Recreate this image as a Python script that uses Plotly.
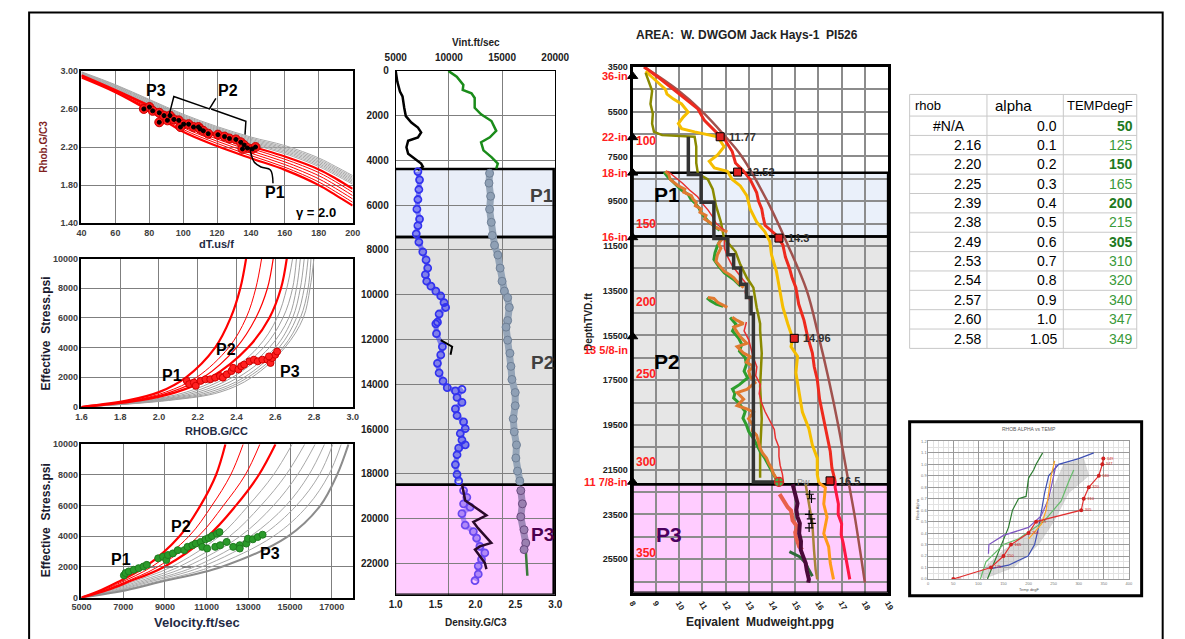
import plotly.graph_objects as go

W, H = 1185, 639
def px(x): return x / W
def py(y): return 1 - y / H

FONT = "Liberation Sans, Arial, sans-serif"

# ---------------- Panel 1 : Rhob vs dT ----------------
p1_dt = [40, 60, 80, 100, 120, 140, 160, 180, 190, 200]
p1_gray = [
    [2.99, 2.855, 2.700, 2.545, 2.415, 2.305, 2.215, 2.085, 1.995, 1.900],
    [2.985, 2.848, 2.692, 2.535, 2.404, 2.293, 2.200, 2.070, 1.980, 1.885],
    [2.98, 2.840, 2.683, 2.525, 2.393, 2.281, 2.186, 2.055, 1.965, 1.870],
    [2.975, 2.832, 2.674, 2.515, 2.382, 2.269, 2.172, 2.040, 1.950, 1.855],
    [2.97, 2.824, 2.665, 2.505, 2.371, 2.257, 2.158, 2.025, 1.935, 1.840],
    [2.965, 2.816, 2.656, 2.495, 2.360, 2.245, 2.144, 2.010, 1.920, 1.825],
    [2.96, 2.808, 2.647, 2.485, 2.349, 2.233, 2.130, 1.995, 1.905, 1.810],
]
p1_red = [
    [2.955, 2.800, 2.636, 2.465, 2.330, 2.210, 2.100, 1.965, 1.870, 1.760],
    [2.95, 2.795, 2.625, 2.445, 2.307, 2.185, 2.072, 1.932, 1.835, 1.725],
    [2.945, 2.790, 2.614, 2.425, 2.284, 2.160, 2.044, 1.899, 1.800, 1.690],
    [2.94, 2.785, 2.603, 2.405, 2.261, 2.135, 2.016, 1.866, 1.765, 1.655],
    [2.935, 2.780, 2.592, 2.385, 2.238, 2.110, 1.988, 1.833, 1.730, 1.620],
    [2.93, 2.775, 2.580, 2.360, 2.210, 2.082, 1.960, 1.800, 1.695, 1.585],
]
p1_red_w = [2.2, 1, 1, 1, 1, 2.2]
p1_pts_dt = [76.8, 80.1, 82.0, 85.9, 85.9, 88.7, 90.7, 92.2, 94.5, 97.4, 100.3, 98.4, 103.2, 106.1,
             109.0, 110.0, 111.9, 114.8, 120.5, 124.4, 127.3, 131.1, 134.0, 136.0, 137.9, 140.8, 142.7, 135.0]
p1_pts_rhob = [2.60, 2.62, 2.58, 2.56, 2.46, 2.53, 2.48, 2.53, 2.49, 2.48, 2.44, 2.41, 2.44, 2.41,
               2.41, 2.39, 2.37, 2.34, 2.33, 2.31, 2.29, 2.28, 2.25, 2.22, 2.19, 2.18, 2.20, 2.18]
p1_bracket_dt = [91.6, 94.5, 115.5, 119.3, None, 116.5, 137.0, 136.5]
p1_bracket_rh = [2.53, 2.73, 2.60, 2.71, None, 2.60, 2.47, 2.33]
p1_pointer_dt = [139.2, 142.0, 146.0, 151.5, 153.0]
p1_pointer_rh = [2.20, 2.04, 1.99, 1.96, 1.82]

# ---------------- Panel 2 : Effective stress vs RHOB ----------------
p2_stress = [0, 440, 1000, 2000, 4000, 6000, 8000, 10000]
p2_red = [
    [1.6, 1.84, 2.00, 2.14, 2.29, 2.37, 2.42, 2.45],
    [1.6, 1.865, 2.035, 2.195, 2.36, 2.45, 2.50, 2.53],
    [1.6, 1.88, 2.06, 2.23, 2.40, 2.50, 2.56, 2.59],
    [1.6, 1.90, 2.09, 2.27, 2.46, 2.57, 2.63, 2.66],
]
p2_red_w = [2.2, 1, 1.2, 2.2]
p2_gray = [
    [1.6, 1.93, 2.14, 2.32, 2.51, 2.61, 2.66, 2.69],
    [1.6, 1.95, 2.17, 2.35, 2.54, 2.64, 2.69, 2.71],
    [1.6, 1.97, 2.20, 2.38, 2.57, 2.67, 2.71, 2.73],
    [1.6, 1.99, 2.23, 2.41, 2.60, 2.69, 2.73, 2.75],
    [1.6, 2.01, 2.26, 2.44, 2.62, 2.71, 2.75, 2.77],
    [1.6, 2.03, 2.29, 2.46, 2.64, 2.73, 2.77, 2.785],
    [1.6, 2.05, 2.315, 2.48, 2.65, 2.745, 2.78, 2.80],
]
p2_pts_rhob = [2.144, 2.156, 2.18, 2.19, 2.215, 2.24, 2.265, 2.29, 2.315, 2.33, 2.35, 2.374, 2.383,
               2.41, 2.425, 2.44, 2.467, 2.49, 2.51, 2.534, 2.56, 2.576, 2.585, 2.60, 2.61, 2.568]
p2_pts_stress = [1758, 1538, 1648, 1429, 1758, 1868, 1868, 1978, 2088, 1978, 2198, 2418, 2637,
                 2527, 2747, 2857, 3077, 3187, 3077, 3187, 3187, 2967, 3297, 3516, 3736, 3407]

# ---------------- Panel 3 : Effective stress vs Velocity ----------------
p3_stress = [0, 500, 1000, 2000, 4000, 6000, 8000, 10000]
p3_red = [
    [5000, 5950, 6720, 8050, 9700, 10700, 11450, 11900],
    [5000, 6050, 6900, 8350, 10150, 11250, 12150, 12750],
    [5000, 6150, 7050, 8650, 10600, 11800, 12850, 13550],
    [5000, 6250, 7200, 8950, 11050, 12400, 13500, 14300],
]
p3_red_w = [2.2, 1, 1, 2.2]
p3_gray = [
    [5000, 6350, 7400, 9300, 11600, 13000, 14200, 15100],
    [5000, 6450, 7600, 9650, 12100, 13600, 14800, 15700],
    [5000, 6600, 7800, 10000, 12600, 14200, 15350, 16200],
    [5000, 6750, 8000, 10400, 13100, 14800, 15900, 16650],
    [5000, 6850, 8200, 10750, 13600, 15300, 16400, 17050],
    [5000, 7000, 8450, 11200, 14200, 15850, 16850, 17450],
    [5000, 7200, 8700, 11700, 14900, 16450, 17250, 17800],
]
p3_gray_w = [1, 1, 1, 1, 1, 1, 2]
p3_pts_vel = [7034, 7112, 7269, 7503, 7738, 7973, 8129,
              8677, 8911, 9068, 9146, 9381, 9615, 9928, 10085, 10319, 10476, 10711, 10790, 10945, 11023, 11102, 11258, 11493, 11618,
              11414, 11649, 11962, 12275, 12588, 12588, 12900, 12979, 13214, 13448, 13683]
p3_pts_stress = [1453, 1603, 1709, 1816, 1923, 2030, 2137,
                 2564, 2671, 2457, 2778, 2885, 3098, 3098, 3312, 3419, 3526, 3632, 3312, 3803, 3205, 3889, 4017, 4167, 4274,
                 3312, 3419, 3632, 3312, 3419, 3205, 3526, 3846, 3803, 3953, 4103]
p3_dash_vel = [8100, 10400]
p3_dash_stress = [2000, 2000]

# ---------------- Middle : Vint / Density vs depth ----------------
vint_shallow_d = [0, 480, 920, 1140, 1650, 2020, 2310, 2530, 2750, 2970, 3120, 3410, 3700, 3920, 4140, 4280, 4430]
vint_shallow_v = [5000, 5150, 5400, 5640, 5800, 5950, 6470, 7090, 7390, 7090, 6170, 6010, 6170, 6780, 7390, 7550, 7090]
dens_shallow_d = [0, 263, 628, 850, 1000, 1210, 1650, 1940, 2240, 2680, 2970, 3190, 3550, 3850, 4140, 4370]
dens_shallow_r = [1.66, 1.765, 1.848, 1.84, 1.95, 1.99, 1.99, 2.07, 2.20, 2.26, 2.18, 2.07, 2.10, 2.20, 2.28, 2.26]
vint_d = [4500, 4868, 5300, 5746, 6180, 6623, 6915, 7281, 7646, 8084, 8447, 8811, 9105, 9398, 9618, 9838,
          10057, 10349, 10570, 10862, 11228, 11300, 11740, 12320, 12689, 13063, 13490, 13860, 14153, 14298,
          14226, 14590, 14810, 15101, 15395, 15684, 15980, 16199, 16491, 16711, 16856, 17149, 17588, 18026, 18318]
vint_v = [7086, 7240, 7178, 7086, 6994, 7240, 7086, 6932, 7178, 7546, 7853, 8006, 7792, 7915, 8313, 8773,
          9233, 9540, 9693, 9080, 8927, 8773, 8835, 9387, 9233, 8927, 9080, 9448, 9846, 10613,
          11227, 10766, 11227, 10613, 10766, 11380, 11533, 11073, 11227, 11533, 10920, 10766, 10613, 10766, 10920]
vint_p3_d = [18750, 19050, 19340, 19490, 19780, 20295, 20585, 20877, 21241, 21535, 21827, 22120, 22485, 22776]
vint_p3_v = [11380, 11687, 11380, 11994, 11227, 11533, 12300, 12607, 12914, 13374, 13067, 12760, 12760, 12454]
vtrend_p3_d = [18460, 19195, 19490, 19853, 20150, 20440, 21090, 21241, 21386, 21970, 22260]
vtrend_p3_v = [11227, 11533, 12454, 13527, 12300, 12760, 13987, 12914, 12454, 13374, 13527]
vtrend_p2_d = [12030, 12320, 12680]
vtrend_p2_v = [9233, 10306, 10153]
dens_d = [4575, 5014, 5600, 6180, 6765, 7350, 7790, 8226, 8811, 9398, 9838, 10130, 10570, 11155,
          11447, 12030, 12615, 13200, 13785, 14370, 14960, 15540, 16125, 16710, 17295, 17880, 18318]
dens_r = [2.177, 2.169, 2.19, 2.177, 2.198, 2.21, 2.239, 2.28, 2.309, 2.333, 2.362, 2.403, 2.424, 2.403,
          2.383, 2.403, 2.432, 2.444, 2.457, 2.498, 2.498, 2.473, 2.486, 2.514, 2.506, 2.527, 2.555]
dens_p3_d = [18750, 19340, 19920, 20500, 21090, 21386]
dens_p3_r = [2.568, 2.588, 2.568, 2.609, 2.63, 2.609]
dens_p3_line_d = [21386, 21800, 22200, 22555]
dens_p3_line_r = [2.63, 2.635, 2.64, 2.65]
mid_zone_top = [4386, 7425, 18490]
mid_zone_bot = [7425, 18490, 23400]

# ---------------- Right : Equivalent mud weight vs depth ----------------
ob_d = [3500, 4500, 5500, 6500, 7500, 9500, 11500, 13500, 15500, 17500, 19500, 21500, 23500, 25500, 26550]
ob_p = [8.5, 9.9, 11.0, 11.9, 12.7, 13.8, 14.7, 15.5, 16.0, 16.45, 16.85, 17.2, 17.55, 17.85, 18.0]
fg_d = [3500, 3984, 4790, 5377, 5890, 6476, 6696, 7282, 7794, 8160, 8528, 9113, 9500, 9847, 10200, 10577,
        11018, 11456, 12000, 12484, 12900, 13363, 14100, 14827, 15487, 16293, 16900, 17466, 18346, 19224,
        19958, 20688, 21422, 22008]
fg_p = [8.49, 9.13, 10.11, 10.81, 11.09, 11.66, 11.94, 12.29, 12.43, 12.78, 13.06, 13.34, 13.42, 13.56,
        13.62, 13.70, 14.19, 14.47, 14.58, 14.75, 14.86, 15.03, 15.15, 15.38, 15.52, 15.74, 15.82, 15.95,
        16.05, 16.23, 16.37, 16.51, 16.58, 16.72]
fg_p3_d = [22008, 22302, 23035, 23500, 23915, 24400, 24794, 25100, 25524, 26000, 26403]
fg_p3_p = [16.72, 16.72, 16.86, 16.85, 17.0, 16.98, 17.07, 17.12, 17.21, 17.28, 17.35]
ye_d = [3693, 4204, 4498, 4718, 4937, 5157, 5522, 5742, 6036, 6256, 6401, 6621, 7061, 7428, 7721, 8014,
        8160, 8528, 8818, 9258, 9847, 10429, 10871, 11311, 11896, 12630, 13364, 14243, 14976, 15633,
        16002, 16442, 17172, 18051, 18930, 19664, 20398, 20985, 21718, 22082]
ye_p = [8.56, 9.13, 9.41, 9.48, 9.76, 10.11, 10.39, 10.18, 9.97, 10.11, 10.67, 11.66, 11.94, 11.66, 11.3,
        11.52, 12.08, 12.29, 12.64, 12.92, 13.06, 13.34, 13.70, 13.91, 13.98, 14.19, 14.33, 14.47, 14.68,
        14.89, 14.82, 15.1, 15.03, 15.17, 15.31, 15.59, 15.74, 15.95, 15.95, 16.02]
ye_p3_d = [22082, 22302, 23035, 23621, 24354, 24940, 25673, 26403]
ye_p3_p = [16.02, 16.3, 16.23, 16.37, 16.23, 16.44, 16.51, 16.65]
ol_d = [3767, 4134, 4572, 5157, 5596, 6036, 6401, 6548, 6621, 7061, 7794, 8263, 8528, 8968, 9701, 10429,
        11165, 11751, 12337, 12923, 13363, 14243, 14976, 15268, 16293, 17760, 19224, 20688, 21862]
ol_p = [8.56, 8.70, 8.84, 8.77, 8.87, 8.84, 8.92, 9.27, 10.67, 10.74, 10.74, 10.81, 11.24, 11.45, 11.59,
        11.80, 11.94, 12.43, 12.64, 12.92, 13.2, 13.34, 13.49, 13.49, 13.56, 13.49, 13.56, 13.49, 13.49]
ol_p3_d = [22155, 23035, 23915, 25087, 25966, 26403]
ol_p3_p = [15.45, 15.59, 15.74, 15.81, 15.88, 15.95]
mw_d = [6621, 8309, 8309, 9553, 9553, 11165, 11165, 11896, 11896, 12484, 12484, 13217, 13217, 13803,
        13803, 14536, 14536, 22050, 22050]
mw_p = [10.4, 10.4, 10.95, 10.95, 11.5, 11.5, 12.1, 12.1, 12.35, 12.35, 12.65, 12.65, 12.9, 12.9,
        13.1, 13.1, 13.2, 13.2, 14.35]
# pore pressure estimates (orange / green / red thin)
pp_or_d = [[8160, 8300, 8528, 8700, 8818, 8968, 9100, 9258, 9400, 9553, 9700, 9847, 10000, 10140, 10300,
            10429, 10550, 10650, 10750, 10871],
           [11165, 11400, 11604, 11900, 12190, 12400, 12630, 12800, 12923, 13100, 13217, 13363],
           [13803, 13850, 14023, 14150, 14243],
           [14683, 14829, 14976, 15122, 15350, 15560, 15853, 16002, 16295, 16442, 16700, 16882, 17100, 17322,
            17615, 17908, 18055, 18348, 18641, 18788, 18934, 19228, 19521, 19750, 19960, 20250, 20546, 20760,
            20985, 21200, 21425, 21650, 21864, 22000, 22157]]
pp_or_p = [[9.41, 9.55, 9.62, 9.85, 9.97, 10.25, 10.2, 10.53, 10.6, 10.74, 10.7, 10.95, 10.9, 11.16, 11.1,
            11.3, 11.45, 11.52, 11.8, 12.08],
           [11.87, 11.7, 11.8, 11.65, 11.59, 11.75, 11.94, 12.2, 12.36, 12.5, 12.64, 12.78],
           [11.24, 11.5, 11.66, 11.9, 12.08],
           [12.29, 12.5, 12.78, 12.36, 12.5, 12.64, 12.92, 12.5, 12.78, 13.06, 12.9, 13.2, 13.0, 13.06,
            13.27, 12.92, 12.5, 12.78, 12.5, 12.92, 13.2, 12.99, 13.2, 13.15, 13.34, 13.4, 13.49, 13.6,
            13.77, 13.85, 13.98, 14.05, 14.19, 14.25, 14.33]]
pp_gr_d = [[8200, 8400, 8600, 8800, 9000, 9200, 9400, 9600, 9800, 10000, 10200, 10400, 10600, 10800],
           [11200, 11500, 11800, 12100, 12400, 12700, 13000, 13300],
           [13820, 13950, 14100, 14200],
           [14700, 15000, 15300, 15600, 15900, 16200, 16500, 16800, 17100, 17400, 17700, 17900, 18100, 18300,
            18500, 18700, 18900, 19200, 19500, 19800, 20100, 20400, 20700, 21000, 21300, 21600, 21900, 22150]]
pp_gr_p = [[9.35, 9.5, 9.7, 9.9, 10.1, 10.4, 10.5, 10.7, 10.85, 10.95, 11.1, 11.25, 11.5, 11.75],
           [11.8, 11.65, 11.55, 11.5, 11.7, 11.95, 12.35, 12.65],
           [11.2, 11.35, 11.6, 11.9],
           [12.2, 12.45, 12.3, 12.55, 12.7, 12.6, 12.85, 12.9, 12.8, 12.95, 12.6, 12.3, 12.4, 12.35,
            12.55, 12.7, 12.85, 12.75, 12.9, 13.0, 13.2, 13.35, 13.5, 13.7, 13.85, 14.0, 14.15, 14.3]]
pp_rd_d = [[8150, 8400, 8700, 9000, 9300, 9600, 9900, 10200, 10500, 10800],
           [11200, 11600, 12000, 12400, 12800, 13200, 13600, 14000],
           [14900, 15300, 15700, 16100, 16500, 16900, 17300, 17700, 18100, 18500, 18900, 19300, 19700,
            20100, 20500, 20900, 21300, 21700, 22100]]
pp_rd_p = [[9.5, 9.8, 10.15, 10.45, 10.8, 11.0, 11.25, 11.45, 11.6, 11.95],
           [11.95, 11.95, 12.1, 12.3, 12.6, 12.9, 12.85, 13.1],
           [12.9, 12.8, 13.0, 13.1, 13.2, 13.35, 13.3, 13.5, 13.45, 13.55, 13.7, 13.9, 14.1, 14.15, 14.3,
            14.3, 14.35, 14.45, 14.5]]
p3_salmon_d = [22595, 22815, 23000, 23181, 23328, 23550, 23768, 24061, 24300, 24501, 24700, 24940, 25087]
p3_salmon_p = [14.33, 14.47, 14.55, 14.68, 14.82, 14.85, 14.89, 15.1, 15.0, 15.03, 15.1, 15.17, 15.31]
p3_dkgreen_d = [25160, 25300, 25380, 25500, 25673, 25900, 26260]
p3_dkgreen_p = [14.75, 15.0, 15.17, 15.3, 15.45, 15.55, 15.74]
p3_purple_d = [22155, 22450, 22742, 23000, 23300, 23621, 23900, 24354, 24700, 25087, 25400, 25673, 26000, 26403, 26550]
p3_purple_p = [14.89, 14.95, 15.03, 15.1, 15.05, 15.1, 15.2, 15.17, 15.25, 15.24, 15.35, 15.45, 15.5, 15.59, 15.56]
p3_plus_d = [22600, 22800, 23500, 23700, 23900, 24100]
p3_plus_p = [15.62, 15.7, 15.6, 15.68, 15.72, 15.6]
mk_d = [6621, 8200, 11150, 15630, 22000]
mk_p = [11.77, 12.52, 14.3, 14.96, 16.5]
mk_txt = ["11.77", "12.52", "14.3", "14.96", "16.5"]
casing_d = [3913, 6650, 8234, 11120, 15550, 22050]
casing_lbl_d = [3913, 6650, 8234, 11120, 16150, 22050]
casing_lbl = ["36-in", "22-in", "18-in", "16-in", "13 5/8-in", "11 7/8-in"]
temp_lbl_d = [6830, 10507, 14000, 17245, 21160, 25230]
temp_lbl = ["100", "150", "200", "250", "300", "350"]
r_zone_top = [8234, 11082, 22155]
r_zone_bot = [11082, 22155, 27000]

# ---------------- Table ----------------
tbl_rhob = [None, 2.16, 2.20, 2.25, 2.39, 2.38, 2.49, 2.53, 2.54, 2.57, 2.60, 2.58]
tbl_alpha = [0.0, 0.1, 0.2, 0.3, 0.4, 0.5, 0.6, 0.7, 0.8, 0.9, 1.0, 1.05]
tbl_temp = [50, 125, 150, 165, 200, 215, 305, 310, 320, 340, 347, 349]
tbl_temp_bold = [True, False, True, False, True, False, True, False, False, False, False, False]

# ---------------- Inset (RHOB ALPHA vs TEMP) ----------------
ins_lines = [
    ("#2E7D32", [118, 130, 150, 160, 168, 180, 195, 200, 210, 215, 228], [0.0, 0.13, 0.33, 0.45, 0.6, 0.7, 0.72, 0.88, 0.95, 1.0, 1.1]),
    ("#3F51B5", [125, 160, 199, 212, 220, 226, 232, 240, 260, 300, 330], [0.09, 0.12, 0.2, 0.3, 0.45, 0.6, 0.75, 0.9, 1.0, 1.05, 1.1]),
    ("#7E57C2", [120, 121, 150, 200, 225, 240, 250, 255], [0.22, 0.3, 0.38, 0.45, 0.55, 0.7, 0.9, 1.0]),
    ("#66BB6A", [104, 115, 150, 180, 230, 265, 280, 290], [0.0, 0.15, 0.3, 0.35, 0.5, 0.68, 0.85, 0.95]),
    ("#FFA726", [200, 215, 226, 235, 245, 252], [0.35, 0.42, 0.48, 0.6, 0.9, 1.03]),
]
ins_band_t = [100, 150, 200, 230, 250, 270, 310, 320, 280, 250, 220, 170, 110, 100]
ins_band_a = [0.05, 0.25, 0.4, 0.55, 0.8, 1.0, 1.05, 0.9, 0.75, 0.5, 0.3, 0.1, 0.0, 0.05]

fig = go.Figure()

def line(x, y, xa, ya, color, width=1, shape='linear', dash='solid', opacity=1):
    fig.add_trace(go.Scatter(x=x, y=y, xaxis=xa, yaxis=ya, mode='lines', opacity=opacity,
                             line=dict(color=color, width=width, shape=shape, dash=dash),
                             hoverinfo='skip', showlegend=False))

def marks(x, y, xa, ya, color, size=7, symbol='circle', lcolor=None, lw=1, opacity=1):
    fig.add_trace(go.Scatter(x=x, y=y, xaxis=xa, yaxis=ya, mode='markers', opacity=opacity,
                             marker=dict(color=color, size=size, symbol=symbol,
                                         line=dict(color=lcolor or color, width=lw)),
                             hoverinfo='skip', showlegend=False, cliponaxis=False))

# Panel 1
for ys in p1_gray:
    line(p1_dt, ys, 'x', 'y', '#A8A8A8', 1, 'spline')
for ys, w in zip(p1_red, p1_red_w):
    line(p1_dt, ys, 'x', 'y', '#FF0000', w, 'spline')
marks(p1_pts_dt, p1_pts_rhob, 'x', 'y', '#FF1A1A', 9, 'circle', '#CC0000', 1)
marks(p1_pts_dt, p1_pts_rhob, 'x', 'y', '#000000', 4)
line(p1_bracket_dt, p1_bracket_rh, 'x', 'y', '#000000', 1.5)
line(p1_pointer_dt, p1_pointer_rh, 'x', 'y', '#000000', 1.5, 'spline')

# Panel 2
for xs in p2_gray:
    line(xs, p2_stress, 'x2', 'y2', '#A0A0A0', 1, 'spline')
for xs, w in zip(p2_red, p2_red_w):
    line(xs, p2_stress, 'x2', 'y2', '#FF0000', w, 'spline')
marks(p2_pts_rhob, p2_pts_stress, 'x2', 'y2', '#FF2020', 7, 'circle', '#D00000', 1)

# Panel 3
for xs, w in zip(p3_gray, p3_gray_w):
    line(xs, p3_stress, 'x3', 'y3', '#8C8C8C' if w > 1 else '#A8A8A8', w, 'spline')
for xs, w in zip(p3_red, p3_red_w):
    line(xs, p3_stress, 'x3', 'y3', '#FF0000', w, 'spline')
line(p3_dash_vel, p3_dash_stress, 'x3', 'y3', '#707070', 1.5, dash='dash')
marks(p3_pts_vel, p3_pts_stress, 'x3', 'y3', '#2A9A2A', 7, 'circle', '#1E7A1E', 1)

# Middle
line(vint_shallow_v, vint_shallow_d, 'x5', 'y4', '#000000', 2.5)
line(dens_shallow_r, dens_shallow_d, 'x4', 'y4', '#1A8C1A', 2.5)
line(vint_v, vint_d, 'x5', 'y4', 'rgba(50,50,240,0.55)', 5)
marks(vint_v, vint_d, 'x5', 'y4', '#3333EE', 7, 'circle-open', '#3333EE', 1.8)
line(vtrend_p2_v, vtrend_p2_d, 'x5', 'y4', '#000000', 2)
line(vint_p3_v, vint_p3_d, 'x5', 'y4', 'rgba(100,70,240,0.5)', 5)
marks(vint_p3_v, vint_p3_d, 'x5', 'y4', '#6A48F0', 7, 'circle-open', '#6A48F0', 1.8)
line(vtrend_p3_v, vtrend_p3_d, 'x5', 'y4', '#2A0A2A', 2.5)
line(dens_r, dens_d, 'x4', 'y4', '#95A5B8', 7)
marks(dens_r, dens_d, 'x4', 'y4', '#8FA0B5', 8, 'circle', '#6F8096', 1)
line(dens_p3_line_r, dens_p3_line_d, 'x4', 'y4', '#3A7A3A', 2.5)
line(dens_p3_r, dens_p3_d, 'x4', 'y4', '#A088B8', 7)
marks(dens_p3_r, dens_p3_d, 'x4', 'y4', '#9A80B0', 8, 'circle', '#6A4A80', 1)

# Right panel
line(ob_p, ob_d, 'x6', 'y6', '#A0524E', 2.5, 'spline')
line(fg_p, fg_d, 'x6', 'y6', '#EE2A1E', 3)
line(fg_p3_p, fg_p3_d, 'x6', 'y6', '#FF1744', 3)
line(ye_p, ye_d, 'x6', 'y6', '#F5BE00', 3)
line(ye_p3_p, ye_p3_d, 'x6', 'y6', '#FF9A1A', 3)
line(ol_p, ol_d, 'x6', 'y6', '#8A8A00', 2.5)
line(ol_p3_p, ol_p3_d, 'x6', 'y6', '#A8843A', 2.5)
for xs, ys in zip(pp_gr_p, pp_gr_d):
    line(xs, ys, 'x6', 'y6', '#2E9E2E', 3)
for xs, ys in zip(pp_or_p, pp_or_d):
    line(xs, ys, 'x6', 'y6', '#E07A30', 3)
for xs, ys in zip(pp_rd_p, pp_rd_d):
    line(xs, ys, 'x6', 'y6', '#E83030', 1.5)
line(mw_p, mw_d, 'x6', 'y6', '#333333', 3.5)
line(p3_salmon_p, p3_salmon_d, 'x6', 'y6', '#E8604C', 4)
line(p3_dkgreen_p, p3_dkgreen_d, 'x6', 'y6', '#2E6B3A', 3)
line(p3_purple_p, p3_purple_d, 'x6', 'y6', '#4A0A3A', 4)
marks(p3_plus_p, p3_plus_d, 'x6', 'y6', '#000000', 6, 'cross-thin', '#000000', 1.2)
marks(mk_p, mk_d, 'x6', 'y6', '#E02020', 8, 'square', '#000000', 1)
marks([14.3], [22050], 'x6', 'y6', '#3CB44B', 9, 'circle-cross', '#E02020', 1.2)
marks([8] * len(casing_d), casing_d, 'x6', 'y6', '#000000', 9, 'triangle-up', '#000000', 1)

# Inset
fig.add_trace(go.Scatter(x=ins_band_t, y=ins_band_a, xaxis='x7', yaxis='y7', mode='lines', fill='toself',
                         fillcolor='rgba(150,150,150,0.35)', line=dict(color='rgba(150,150,150,0.3)', width=0.5),
                         hoverinfo='skip', showlegend=False))
for c, xs, ys in ins_lines:
    line(xs, ys, 'x7', 'y7', c, 1.2)
fig.add_trace(go.Scatter(x=tbl_temp, y=tbl_alpha, xaxis='x7', yaxis='y7', mode='lines+markers+text',
                         text=[str(t) for t in tbl_temp], textposition='middle right',
                         textfont=dict(size=4, color='#D02020', family=FONT),
                         line=dict(color='#E03030', width=1.2), marker=dict(color='#D02020', size=4),
                         hoverinfo='skip', showlegend=False))

# ---------------- Shapes ----------------
shapes = []
mid_fill = ['#E9EEF8', '#E1E1E1', '#FFCCFF']
for t, b, c in zip(mid_zone_top, mid_zone_bot, mid_fill):
    shapes.append(dict(type='rect', xref='x4', yref='y4', x0=1.0, x1=3.0, y0=t, y1=b,
                       fillcolor=c, line=dict(width=0), layer='below'))
    shapes.append(dict(type='rect', xref='x4', yref='y4', x0=0.99, x1=2.98, y0=t, y1=b,
                       fillcolor='rgba(0,0,0,0)', line=dict(color='black', width=2.5), layer='between'))
r_fill = ['#EAF0FA', '#E6E6E6', '#FFCCFF']
for t, b, c in zip(r_zone_top, r_zone_bot, r_fill):
    shapes.append(dict(type='rect', xref='x6', yref='y6', x0=8, x1=19, y0=t, y1=b,
                       fillcolor=c, line=dict(width=0), layer='below'))
    shapes.append(dict(type='rect', xref='x6', yref='y6', x0=8, x1=19, y0=t, y1=b,
                       fillcolor='rgba(0,0,0,0)', line=dict(color='black', width=2.5), layer='between'))
# outer frame
shapes.append(dict(type='rect', xref='paper', yref='paper', x0=px(18.5), x1=px(1176.5), y0=py(660), y1=py(6.5),
                   line=dict(color='black', width=2), fillcolor='rgba(0,0,0,0)', layer='above'))
# table grid
tbl_xs = [918, 997, 1075, 1150]
row_lines = [90, 112] + [112 + 19.7 * i for i in range(1, len(tbl_temp) + 1)]
for x in tbl_xs:
    shapes.append(dict(type='line', xref='paper', yref='paper', x0=px(x), x1=px(x), y0=py(90), y1=py(row_lines[-1]),
                       line=dict(color='#C8C8C8', width=1)))
for y in row_lines:
    shapes.append(dict(type='line', xref='paper', yref='paper', x0=px(918), x1=px(1150), y0=py(y), y1=py(y),
                       line=dict(color='#C8C8C8', width=1)))
# inset frame
shapes.append(dict(type='rect', xref='paper', yref='paper', x0=px(918), x1=px(1155), y0=py(600), y1=py(423),
                   line=dict(color='black', width=3), fillcolor='rgba(0,0,0,0)'))

# ---------------- Annotations ----------------
ann = []
def txt(x, y, s, size=10, color='#000000', bold=True, xref='paper', yref='paper', xanchor='center',
        yanchor='middle', angle=0, family=FONT):
    ann.append(dict(x=x, y=y, xref=xref, yref=yref, text=s, showarrow=False, xanchor=xanchor, yanchor=yanchor,
                    textangle=angle, font=dict(family=family, size=size, color=color,
                                               weight='bold' if bold else 'normal')))

# panel 1
txt(83.9, 2.79, "P3", 16, xref='x', yref='y')
txt(126.3, 2.79, "P2", 16, xref='x', yref='y')
txt(154.3, 1.72, "P1", 16, xref='x', yref='y')
txt(178.3, 1.51, "γ = 2.0", 13, xref='x', yref='y')
txt(px(33), py(143), "Rhob.G/C3", 10, '#7F1F1F', True, angle=-90)
txt(px(210), py(242), "dT.us/f", 11, '#1F2A44')
# panel 2
txt(2.066, 2088, "P1", 16, xref='x2', yref='y2')
txt(2.346, 3846, "P2", 16, xref='x2', yref='y2')
txt(2.677, 2418, "P3", 16, xref='x2', yref='y2')
txt(px(36), py(333), "Effective  Stress.psi", 12, '#1A1A2E', True, angle=-90)
txt(px(210), py(432), "RHOB.G/CC", 11, '#1F2A44')
# panel 3
txt(6909, 2457, "P1", 16, xref='x3', yref='y3')
txt(9772, 4637, "P2", 16, xref='x3', yref='y3')
txt(14027, 2885, "P3", 16, xref='x3', yref='y3')
txt(px(36), py(523), "Effective  Stress.psi", 12, '#1A1A2E', True, angle=-90)
txt(px(190), py(627), "Velocity.ft/sec", 13, '#1F2A44')
# middle
txt(px(475), py(37), "Vint.ft/sec", 10, '#222222')
txt(px(475), py(627), "Density.G/C3", 10, '#222222')
txt(2.836, 5583, "P1", 19, '#404040', xref='x4', yref='y4')
txt(2.836, 13040, "P2", 19, '#404040', xref='x4', yref='y4')
txt(2.836, 20715, "P3", 19, '#4B0050', xref='x4', yref='y4')
# right
txt(px(752), py(30), "AREA:  W. DWGOM Jack Hays-1  PI526", 12, '#222222')
txt(px(590), py(322), "DepthTVD.ft", 10, '#222222', angle=-90)
txt(px(765), py(627), "Eqivalent  Mudweight.ppg", 12, '#222222')
txt(9.48, 9201, "P1", 21, xref='x6', yref='y6')
txt(9.48, 16670, "P2", 21, xref='x6', yref='y6')
txt(9.56, 24411, "P3", 21, '#4B0060', xref='x6', yref='y6')
for d, s in zip(casing_lbl_d, casing_lbl):
    txt(px(632), d, s, 11, '#FF2020', True, yref='y6', xanchor='right')
for d, s in zip(temp_lbl_d, temp_lbl):
    txt(8.08, d, s, 12, '#FF2020', True, xref='x6', yref='y6', xanchor='left')
for p, d, s in zip(mk_p, mk_d, mk_txt):
    txt(p + 0.3, d, s, 11, '#303030', True, xref='x6', yref='y6', xanchor='left')
txt(15.0, 22050, "Pw", 9, '#8A8A8A', False, xref='x6', yref='y6', xanchor='left')
# table
txt(px(921), py(101), "rhob", 13, '#000000', False, xanchor='left')
txt(px(1003), py(101), "alpha", 15, '#000000', False, xanchor='left')
txt(px(1077), py(101), "TEMPdegF", 13, '#000000', False, xanchor='left')
for i, (r, a, t, b) in enumerate(zip(tbl_rhob, tbl_alpha, tbl_temp, tbl_temp_bold)):
    yy = py(121.7 + i * 19.7)
    if r is None:
        txt(px(958), yy, "#N/A", 14, '#000000', False)
    else:
        txt(px(993), yy, f"{r:.2f}", 14, '#000000', False, xanchor='right')
    a_s = f"{a:.2f}" if abs(a * 10 - round(a * 10)) > 1e-9 else f"{a:.1f}"
    txt(px(1071), yy, a_s, 14, '#000000', False, xanchor='right')
    txt(px(1148), yy, str(t), 14, '#1E7A1E' if b else '#3A9A3A', b, xanchor='right')
# inset
txt(px(1040), py(430), "RHOB ALPHA vs TEMP", 5, '#555555', False)
txt(px(1040), py(594), "Temp degF", 4, '#555555', False)
txt(px(926), py(512), "Rhob Alpha", 4, '#555555', False, angle=-90)

# ---------------- Axes ----------------
def axis(domain, rng, **kw):
    d = dict(domain=domain, range=rng, showgrid=True, gridcolor='#7F7F7F', gridwidth=1.3, showline=True,
             linecolor='black', linewidth=1.5, mirror=True, zeroline=False, ticks='',
             tickfont=dict(family=FONT, size=9, color='#404040', weight='bold'), fixedrange=True)
    d.update(kw)
    return d

LX = [px(72), px(349)]
layout = dict(
    width=W, height=H, margin=dict(l=0, r=0, t=0, b=0), paper_bgcolor='white', plot_bgcolor='white',
    showlegend=False, hovermode=False,
    xaxis=axis(LX, [40, 200], dtick=20, anchor='y'),
    yaxis=axis([py(221), py(66)], [1.4, 3.0], tick0=1.4, dtick=0.4, tickformat='.2f', anchor='x'),
    xaxis2=axis(LX, [1.6, 3.0], dtick=0.2, tickformat='.1f', anchor='y2'),
    yaxis2=axis([py(408), py(257)], [0, 10000], dtick=2000, tickformat='d', anchor='x2'),
    xaxis3=axis(LX, [5000, 18000], tickvals=[5000, 7000, 9000, 11000, 13000, 15000, 17000], tickformat='d', anchor='y3'),
    yaxis3=axis([py(602), py(446)], [0, 10000], dtick=2000, tickformat='d', anchor='x3'),
    xaxis4=axis([px(393), px(556)], [1.0, 3.0], dtick=0.5, tickformat='.1f', showgrid=False, anchor='y4',
                mirror=False, linewidth=1, tickfont=dict(family=FONT, size=10, color='#202020', weight='bold')),
    xaxis5=axis([px(393), px(556)], [5000, 20000], dtick=5000, tickformat='d', overlaying='x4', side='top',
                anchor='y4', mirror=False, linewidth=1, gridwidth=1, ticklabelstandoff=5,
                tickfont=dict(family=FONT, size=10, color='#202020', weight='bold')),
    yaxis4=axis([py(599), py(66)], [23400, 0], dtick=2000, tickformat='d', anchor='x4', linewidth=1, gridwidth=1,
                ticklabelstandoff=4,
                tickfont=dict(family=FONT, size=10, color='#202020', weight='bold')),
    xaxis6=axis([px(635), px(896)], [8, 19], dtick=1, anchor='y6', tickangle=60, gridcolor='#8C8C8C',
                gridwidth=2, linewidth=2.5, tickfont=dict(family=FONT, size=8, color='#202020', weight='bold')),
    yaxis6=axis([py(597), py(62)], [27000, 3500], tick0=3500, dtick=2000, tickformat='d', anchor='x6',
                gridcolor='#8C8C8C', gridwidth=2, linewidth=3,
                minor=dict(tick0=3500, dtick=1000, showgrid=True, gridcolor='#8C8C8C', gridwidth=2),
                tickfont=dict(family=FONT, size=9, color='#202020', weight='bold')),
    xaxis7=axis([px(937), px(1142)], [0, 400], dtick=50, anchor='y7', gridcolor='#9A9A9A', gridwidth=0.8,
                linewidth=0.5, linecolor='#999999',
                minor=dict(dtick=10, showgrid=True, gridcolor='#E2E2E2', gridwidth=0.5),
                tickfont=dict(family=FONT, size=4, color='#777777')),
    yaxis7=axis([py(583), py(443)], [0, 1.2], dtick=0.1, tickformat='.1f', anchor='x7', gridcolor='#9A9A9A',
                gridwidth=0.8, linewidth=0.5, linecolor='#999999',
                minor=dict(dtick=0.05, showgrid=True, gridcolor='#E2E2E2', gridwidth=0.5),
                tickfont=dict(family=FONT, size=4, color='#777777')),
    shapes=shapes, annotations=ann,
)
fig.update_layout(**layout)
fig.write_html("out.html")
